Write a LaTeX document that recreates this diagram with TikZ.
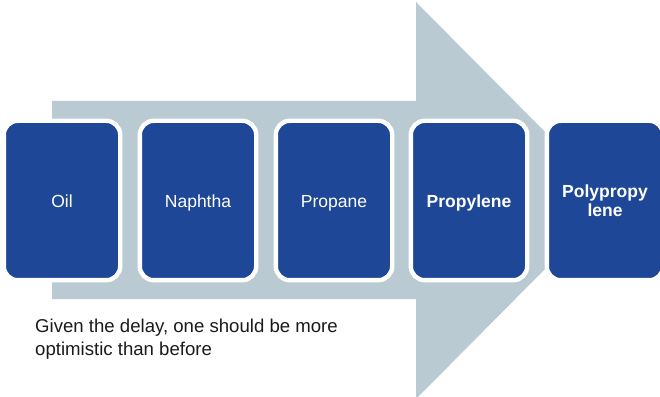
\documentclass[tikz,border=0pt]{standalone}
\usepackage{fontspec}
\setmainfont{Liberation Sans}
\definecolor{arrowgrey}{RGB}{186,202,211}
\definecolor{boxblue}{RGB}{31,71,151}
\definecolor{notetext}{RGB}{26,26,26}
\begin{document}
\begin{tikzpicture}[x=1pt,y=1pt,
  stage/.style={rectangle, rounded corners=14pt, fill=boxblue, draw=white,
    line width=4.4pt, minimum width=116.4pt, minimum height=159.4pt,
    text=white, font=\fontsize{17.5}{19}\selectfont, align=center, inner sep=0pt},
  single/.style={stage, text height=17.6pt, text depth=3.6pt},
  boldsingle/.style={single, font=\fontsize{17.5}{19}\selectfont\bfseries},
  boldstage/.style={stage, font=\fontsize{17.5}{19}\selectfont\bfseries},
  note/.style={anchor=base west, align=left, text=notetext, inner sep=0pt,
    font=\fontsize{18.6}{23}\selectfont}]
\useasboundingbox (0,0) rectangle (660,396);
\fill[arrowgrey] (52,295) -- (416,295) -- (416,394) -- (613,195.5)
  -- (416,-3) -- (416,97) -- (52,97) -- cycle;
\node[single] (oil) at (62,195.5) {Oil};
\node[single] (naphtha) at (198,195.5) {Naphtha};
\node[single] (propane) at (334,195.5) {Propane};
\node[boldsingle] (propylene) at (469,195.5) {Propylene};
\node[boldstage] (poly) at (605,195.5) {Polypropy\\lene};
\node[note] (remark) at (35,41) {Given the delay, one should be more\\optimistic than before};
\end{tikzpicture}
\end{document}
